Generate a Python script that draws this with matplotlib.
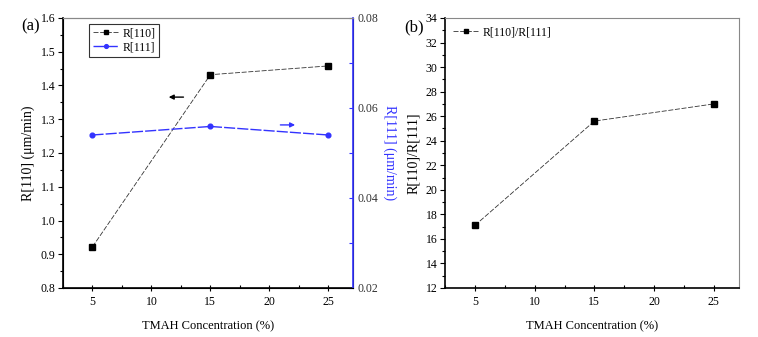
import matplotlib
matplotlib.use("Agg")
import matplotlib.pyplot as plt
from matplotlib.ticker import MultipleLocator

# data
conc = [5, 15, 25]
r110 = [0.922, 1.432, 1.458]
r111 = [0.0540, 0.0559, 0.0540]
ratio = [17.1, 25.6, 27.0]

plt.rcParams['font.family'] = ['Liberation Serif', 'DejaVu Serif']
plt.rcParams['font.size'] = 8.5
plt.rcParams['mathtext.fontset'] = 'stix'

blue = '#3333ff'
fig = plt.figure(figsize=(7.58, 3.37), dpi=100)
ax1 = fig.add_axes([63 / 758, 1 - 288 / 337, 290 / 758, 270 / 337])
ax3 = fig.add_axes([445 / 758, 1 - 288 / 337, 294 / 758, 270 / 337])


def style_x(ax):
    ax.set_xlim(2.5, 27.1)
    ax.xaxis.set_major_locator(MultipleLocator(5))
    ax.xaxis.set_minor_locator(MultipleLocator(2.5))
    ax.tick_params(axis='x', which='major', direction='inout', length=5, width=0.8, pad=3)
    ax.tick_params(axis='x', which='minor', direction='in', length=2.5, width=0.8)
    ax.set_xlabel('TMAH Concentration (%)', labelpad=9, fontsize=9)
    ax.spines['top'].set_color('#888888')
    ax.spines['bottom'].set_linewidth(1.2)
    ax.spines['left'].set_linewidth(1.2)


# (a)
l1, = ax1.plot(conc, r110, color='#333333', lw=0.6, dashes=(6, 2),
               marker='s', ms=3.8, mfc='black', mec='black', label='R[110]')
ax1.set_ylim(0.8, 1.6)
ax1.yaxis.set_major_locator(MultipleLocator(0.1))
ax1.yaxis.set_minor_locator(MultipleLocator(0.05))
ax1.yaxis.set_major_formatter(matplotlib.ticker.FormatStrFormatter('%.1f'))
ax1.tick_params(axis='y', which='major', direction='out', length=3.5, width=0.8, pad=2)
ax1.tick_params(axis='y', which='minor', direction='out', length=2, width=0.8)
ax1.set_ylabel('R[110] (μm/min)', fontsize=10, labelpad=4)
style_x(ax1)

ax2 = ax1.twinx()
l2, = ax2.plot(conc, r111, color=blue, lw=1.0, dashes=(8, 1.5),
               marker='o', ms=3.4, mfc=blue, mec=blue, label='R[111]')
ax2.set_ylim(0.02, 0.08)
ax2.yaxis.set_major_locator(MultipleLocator(0.02))
ax2.yaxis.set_minor_locator(MultipleLocator(0.01))
ax2.tick_params(axis='y', which='both', direction='in', length=3, width=0.8,
                colors=blue, labelcolor='#333333')
ax2.spines['right'].set_color(blue)
ax2.spines['right'].set_linewidth(1.2)
ax2.spines['top'].set_color('#888888')
ax2.set_ylabel('R[111] (μm/min)', color=blue, rotation=270, fontsize=10, labelpad=13)

leg = ax1.legend(handles=[l1, l2], loc='upper left', bbox_to_anchor=(0.07, 1.0),
                 fontsize=8.5, frameon=True, fancybox=False, edgecolor='black',
                 handlelength=2.2, handletextpad=0.3, borderpad=0.3, labelspacing=0.15,
                 markerscale=0.8)
leg.get_frame().set_linewidth(0.8)

ax1.annotate('', xy=(0.355, 0.707), xytext=(0.425, 0.707), xycoords='axes fraction',
             arrowprops=dict(arrowstyle='-|>', color='black', lw=1.0, mutation_scale=7))
ax1.annotate('', xy=(0.81, 0.604), xytext=(0.74, 0.604), xycoords='axes fraction',
             arrowprops=dict(arrowstyle='-|>', color=blue, lw=1.0, mutation_scale=7))
fig.text(21 / 758, 1 - 26 / 337, '(a)', fontsize=12, va='center')

# (b)
ax3.plot(conc, ratio, color='#333333', lw=0.6, dashes=(6, 2),
         marker='s', ms=3.8, mfc='black', mec='black', label='R[110]/R[111]')
ax3.set_ylim(12, 34)
ax3.yaxis.set_major_locator(MultipleLocator(2))
ax3.yaxis.set_minor_locator(MultipleLocator(1))
ax3.tick_params(axis='y', which='major', direction='out', length=3.5, width=0.8, pad=2)
ax3.tick_params(axis='y', which='minor', direction='out', length=2, width=0.8)
ax3.set_ylabel('R[110]/R[111]', fontsize=10, labelpad=4)
ax3.spines['right'].set_color('#888888')
style_x(ax3)
ax3.legend(loc='upper left', fontsize=8.5, frameon=False, handlelength=2.2,
           handletextpad=0.3, borderaxespad=0.3, markerscale=0.8)
fig.text(404 / 758, 1 - 27 / 337, '(b)', fontsize=12, va='center')

fig.savefig('out.png', dpi=100)
